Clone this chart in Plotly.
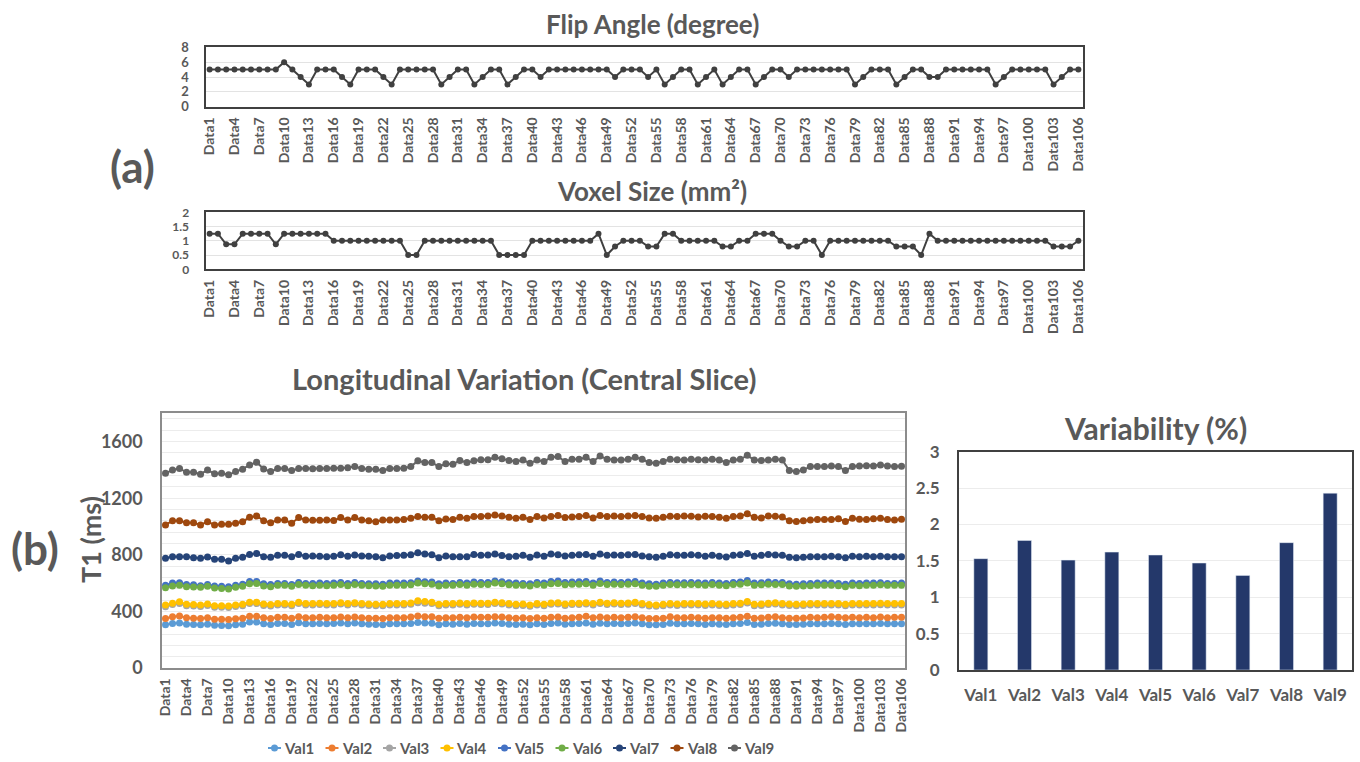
import plotly.graph_objects as go

# ---------------- data ----------------
cats = [f"Data{i}" for i in range(1, 107)]
tick_cats = cats[::3]

flip_angle = [5,5,5,5,5,5,5,5,5,6, 5,4,3,5,5,5,4,3,5,5,
              5,4,3,5,5,5,5,5,3,4, 5,5,3,4,5,5,3,4,5,5,
              4,5,5,5,5,5,5,5,5,4, 5,5,5,4,5,3,4,5,5,3,
              4,5,3,4,5,5,3,4,5,5, 4,5,5,5,5,5,5,5,3,4,
              5,5,5,3,4,5,5,4,4,5, 5,5,5,5,5,3,4,5,5,5,
              5,5,3,4,5,5]

voxel_size = [1.25,1.25,0.875,0.875,1.25,1.25,1.25,1.25,0.875,1.25,
              1.25,1.25,1.25,1.25,1.25,1,1,1,1,1,
              1,1,1,1,0.5,0.5,1,1,1,1,
              1,1,1,1,1,0.5,0.5,0.5,0.5,1,
              1,1,1,1,1,1,1,1.25,0.5,0.8,
              1,1,1,0.8,0.8,1.25,1.25,1,1,1,
              1,1,0.8,0.8,1,1,1.25,1.25,1.25,1,
              0.8,0.8,1,1,0.5,1,1,1,1,1,
              1,1,1,0.8,0.8,0.8,0.5,1.25,1,1,
              1,1,1,1,1,1,1,1,1,1,
              1,1,0.8,0.8,0.8,1]

val1 = [305,315,318,310,308,305,310,302,300,298, 305,310,325,325,312,308,315,315,308,320,
        312,312,315,312,314,318,312,318,312,310, 308,305,312,312,312,315,322,318,316,305,
        312,310,315,310,315,312,312,318,315,310, 308,310,305,312,308,315,318,310,312,314,
        318,310,316,312,314,312,314,318,312,305, 305,308,316,312,312,314,312,308,312,310,
        308,312,314,322,308,310,314,316,312,308, 308,310,312,312,312,314,312,308,312,312,
        312,312,314,312,312,312]
val2 = [350,362,368,355,352,350,355,345,345,342, 348,352,365,365,355,350,358,358,352,362,
        355,355,358,355,356,360,355,360,355,352, 352,350,355,355,356,360,368,362,362,352,
        355,355,358,355,360,358,358,362,360,355, 352,355,350,355,352,358,360,352,356,358,
        365,355,360,356,358,356,358,362,355,350, 350,352,362,356,356,358,356,352,356,355,
        352,356,358,366,352,354,358,362,356,352, 352,354,358,356,358,362,358,356,358,356,
        358,356,360,356,358,358]
val3 = [432,448,455,440,438,435,442,430,430,428, 435,440,455,455,442,438,445,445,440,455,
        445,445,448,445,446,452,445,452,445,442, 440,440,445,445,446,450,462,458,455,440,
        445,445,450,445,450,448,448,455,452,445, 440,442,436,445,440,450,452,442,448,448,
        452,445,455,448,452,448,450,455,445,438, 436,440,445,442,445,446,445,442,445,442,
        440,445,448,460,440,442,448,452,445,442, 440,442,445,445,445,445,445,440,445,445,
        445,445,447,445,445,445]
val4 = [445,458,468,450,448,445,452,440,440,438, 445,450,465,465,452,448,455,455,450,465,
        455,455,458,455,456,462,455,462,455,452, 450,450,455,455,456,460,475,470,465,450,
        455,455,460,455,460,458,458,465,462,455, 450,452,445,455,450,460,462,452,458,458,
        462,455,465,458,462,458,460,465,455,448, 445,450,455,452,455,456,455,452,455,452,
        450,455,458,470,450,452,458,462,455,452, 450,452,455,455,455,455,455,450,455,455,
        455,455,457,455,455,455]
val5 = [585,600,602,590,588,582,590,580,578,575, 585,592,612,612,595,590,598,598,590,605,
        598,598,600,598,600,605,598,605,598,596, 595,592,600,600,600,602,615,610,608,595,
        600,598,605,600,608,605,605,615,610,602, 600,598,595,605,600,612,615,605,608,610,
        612,600,615,605,608,605,608,612,600,595, 592,600,605,602,602,605,602,600,605,600,
        598,605,608,618,600,602,608,605,605,595, 592,595,598,600,600,600,598,592,600,598,
        600,600,602,598,598,600]
val6 = [568,580,585,575,572,570,578,565,562,558, 570,578,595,598,580,575,585,585,578,590,
        585,582,585,582,585,590,582,590,585,582, 580,578,585,585,585,588,600,595,592,580,
        585,585,590,585,592,590,590,600,595,588, 585,585,580,590,585,595,598,588,592,592,
        596,585,598,590,592,590,592,596,585,578, 578,585,590,588,588,590,588,585,590,585,
        582,590,592,600,585,588,592,590,590,580, 578,580,582,585,585,585,582,575,585,582,
        585,585,588,584,584,585]
val7 = [775,787,787,787,780,775,784,768,768,756, 775,782,803,810,787,782,796,796,787,803,
        790,792,790,787,790,800,790,798,792,790, 787,780,792,795,796,800,815,806,801,780,
        792,787,787,787,803,796,798,806,795,787, 790,796,782,798,790,806,800,792,796,800,
        803,790,806,796,798,796,800,803,792,787, 782,790,800,796,796,800,796,790,796,790,
        784,796,800,810,790,796,803,798,796,782, 780,782,787,787,787,790,787,780,790,787,
        790,787,790,787,787,787]
val8 = [1011,1041,1041,1027,1027,1011,1034,1011,1016,1016, 1023,1034,1065,1074,1041,1027,1046,1046,1023,1063,
        1046,1044,1044,1046,1042,1063,1046,1063,1046,1041, 1034,1046,1046,1046,1050,1058,1070,1065,1065,1041,
        1053,1050,1065,1058,1070,1070,1074,1081,1074,1065, 1058,1065,1050,1070,1060,1070,1078,1063,1067,1070,
        1078,1060,1078,1070,1074,1070,1074,1077,1070,1060, 1058,1065,1072,1070,1074,1072,1068,1072,1070,1065,
        1058,1070,1074,1090,1065,1060,1074,1072,1068,1040, 1036,1040,1046,1050,1050,1050,1054,1036,1058,1052,
        1050,1054,1058,1050,1046,1052]
val9 = [1376,1400,1410,1383,1383,1370,1400,1372,1376,1365, 1388,1405,1435,1454,1407,1388,1410,1410,1395,1410,
        1410,1408,1410,1410,1412,1412,1415,1424,1410,1405, 1405,1395,1410,1410,1412,1424,1464,1452,1452,1424,
        1443,1440,1466,1452,1464,1471,1471,1490,1478,1466, 1459,1470,1447,1470,1459,1489,1495,1459,1475,1475,
        1489,1459,1499,1475,1470,1470,1475,1489,1475,1452, 1447,1459,1475,1472,1470,1475,1472,1470,1475,1470,
        1452,1470,1475,1503,1470,1466,1470,1475,1470,1395, 1388,1400,1424,1424,1424,1428,1424,1395,1424,1428,
        1430,1428,1435,1428,1424,1426]

series_names = ["Val1", "Val2", "Val3", "Val4", "Val5", "Val6", "Val7", "Val8", "Val9"]
series_values = [val1, val2, val3, val4, val5, val6, val7, val8, val9]
series_colors = ["#5B9BD5", "#ED7D31", "#A5A5A5", "#FFC000", "#4472C4",
                 "#70AD47", "#264478", "#9E480E", "#636363"]

variability = [1.53, 1.78, 1.51, 1.62, 1.58, 1.47, 1.30, 1.75, 2.43]

# ---------------- styling ----------------
W, H = 1360, 762
FONT = "Lato"
TXT = "#595959"
GRID = "#e3e3e3"


def px_x(p):
    return p / W


def px_y(p):
    return 1 - p / H


fig = go.Figure()

# top charts
fig.add_trace(go.Scatter(x=cats, y=flip_angle, mode="lines+markers",
                         line=dict(color="#404040", width=2),
                         marker=dict(color="#404040", size=6),
                         showlegend=False, xaxis="x", yaxis="y"))
fig.add_trace(go.Scatter(x=cats, y=voxel_size, mode="lines+markers",
                         line=dict(color="#404040", width=2),
                         marker=dict(color="#404040", size=6),
                         showlegend=False, xaxis="x2", yaxis="y2"))

# T1 lines
for name, vals, col in zip(series_names, series_values, series_colors):
    fig.add_trace(go.Scatter(x=cats, y=vals, mode="lines+markers", name=name,
                             line=dict(color=col, width=2),
                             marker=dict(color=col, size=7),
                             showlegend=False, xaxis="x3", yaxis="y3"))

# variability bars
fig.add_trace(go.Bar(x=series_names, y=variability, marker_color="#24386A",
                     width=0.32, showlegend=False, xaxis="x4", yaxis="y4"))

tickfont_x = dict(family=FONT, size=14, color=TXT, weight="bold")

common_cat_x = dict(type="category", categoryorder="array", categoryarray=cats,
                    range=[-0.5, 105.5], tickmode="array", tickvals=tick_cats,
                    ticktext=tick_cats, tickangle=-90, tickfont=tickfont_x,
                    showgrid=False, ticks="", showline=True, mirror=True,
                    zeroline=False, automargin=False, ticklabelstandoff=3)

x_dom_top = [px_x(205.5), px_x(1082.5)]

fig.update_layout(
    width=W, height=H,
    margin=dict(l=0, r=0, t=0, b=0, autoexpand=False),
    paper_bgcolor="white", plot_bgcolor="white",
    font=dict(family=FONT, color=TXT),
    showlegend=False,
    xaxis=dict(**common_cat_x, domain=x_dom_top, anchor="y",
               linecolor="#404040", linewidth=2),
    yaxis=dict(domain=[px_y(106.7), px_y(47.3)], anchor="x", range=[0, 8],
               dtick=2, showgrid=True, gridcolor=GRID, gridwidth=1,
               zeroline=False, showline=True, mirror=True, linecolor="#404040",
               linewidth=2, tickfont=dict(family=FONT, size=13, color=TXT, weight="bold"),
               ticklabelstandoff=12, automargin=False),
    xaxis2=dict(**common_cat_x, domain=x_dom_top, anchor="y2",
                linecolor="#404040", linewidth=2),
    yaxis2=dict(domain=[px_y(269.3), px_y(212.3)], anchor="x2", range=[0, 2],
                dtick=0.5, showgrid=True, gridcolor=GRID, gridwidth=1,
                zeroline=False, showline=True, mirror=True, linecolor="#404040",
                linewidth=2, tickfont=dict(family=FONT, size=12, color=TXT, weight="bold"),
                ticklabelstandoff=12, automargin=False),
    xaxis3=dict(**common_cat_x, domain=[px_x(162), px_x(905)], anchor="y3",
                linecolor="#8c8c8c", linewidth=1.5),
    yaxis3=dict(domain=[px_y(668), px_y(413.3)], anchor="x3", range=[0, 1800],
                tickvals=[0, 400, 800, 1200, 1600], showgrid=True,
                gridcolor="#ececec", gridwidth=1,
                minor=dict(dtick=80, showgrid=True, gridcolor="#ececec", gridwidth=1),
                zeroline=False, showline=True, mirror=True, linecolor="#8c8c8c",
                linewidth=1.5, tickfont=dict(family=FONT, size=18, color=TXT, weight="bold"),
                ticklabelstandoff=14, automargin=False),
    xaxis4=dict(domain=[px_x(959), px_x(1352)], anchor="y4", type="category",
                showline=True, mirror=True, linecolor="#404040", linewidth=2,
                ticks="", tickfont=dict(family=FONT, size=17, color=TXT, weight="bold"),
                ticklabelstandoff=9, automargin=False),
    yaxis4=dict(domain=[px_y(670), px_y(451.7)], anchor="x4", range=[0, 3],
                dtick=0.5, showgrid=True, gridcolor="#ececec", zeroline=False,
                showline=True, mirror=True, linecolor="#404040", linewidth=2,
                tickfont=dict(family=FONT, size=17, color=TXT, weight="bold"),
                ticklabelstandoff=14, automargin=False),
    bargap=0.6,
)


def title(text, x, y, size):
    fig.add_annotation(text=text, x=px_x(x), y=px_y(y), xref="paper", yref="paper",
                       xanchor="center", yanchor="middle", showarrow=False,
                       font=dict(family=FONT, size=size, color=TXT, weight="bold"))


title("Flip Angle (degree)", 652, 24, 26)
title("Voxel Size (mm²)", 652, 191, 26)
title("Longitudinal Variation (Central Slice)", 524, 378, 29)
title("Variability (%)", 1155, 428, 30)
title("(a)", 132, 166, 44)
title("(b)", 35, 548, 44)
fig.add_annotation(text="T1 (ms)", x=px_x(90), y=px_y(540), xref="paper", yref="paper",
                   xanchor="center", yanchor="middle", showarrow=False, textangle=-90,
                   font=dict(family=FONT, size=27, color=TXT, weight="bold"))

# custom compact legend (Excel style: short line with marker, then name)
leg_y = 748
for i, (name, col) in enumerate(zip(series_names, series_colors)):
    x0 = 268 + i * 57.5
    fig.add_shape(type="line", xref="paper", yref="paper",
                  x0=px_x(x0), x1=px_x(x0 + 13), y0=px_y(leg_y), y1=px_y(leg_y),
                  line=dict(color=col, width=2))
    fig.add_shape(type="circle", xref="paper", yref="paper",
                  x0=px_x(x0 + 3), x1=px_x(x0 + 10), y0=px_y(leg_y + 3.5), y1=px_y(leg_y - 3.5),
                  line=dict(color=col, width=0), fillcolor=col)
    fig.add_annotation(text=name, x=px_x(x0 + 14), y=px_y(leg_y), xref="paper", yref="paper",
                       xanchor="left", yanchor="middle", showarrow=False,
                       font=dict(family=FONT, size=15, color=TXT, weight="bold"))

fig.write_html("out.html")
